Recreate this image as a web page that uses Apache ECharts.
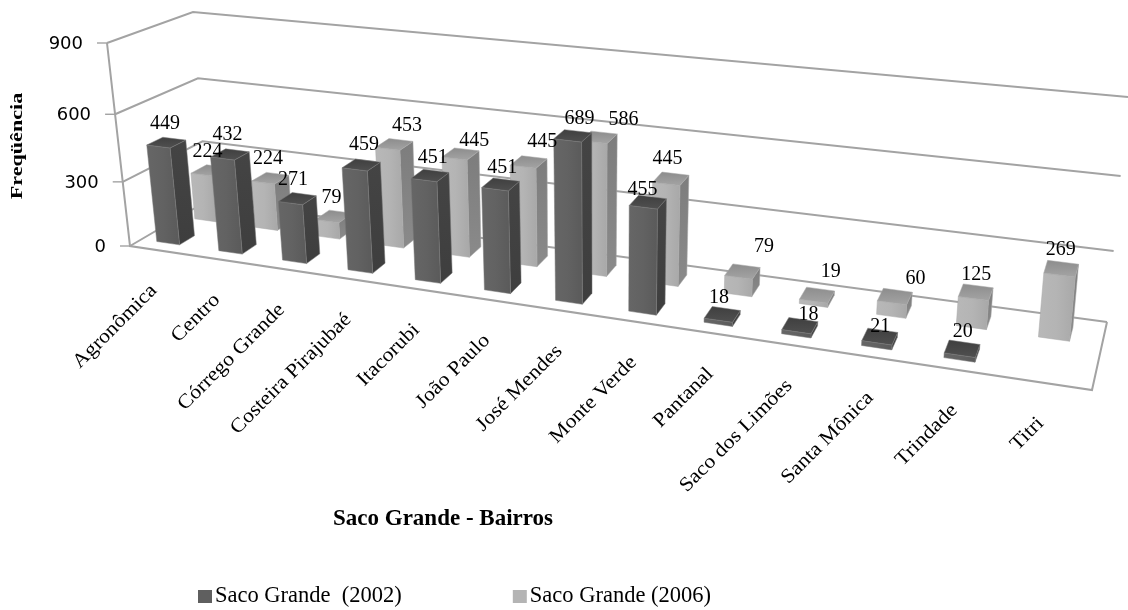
<!DOCTYPE html>
<html><head><meta charset="utf-8">
<style>html,body{margin:0;padding:0;background:#fff}#c{width:1128px;height:610px}</style>
<script src="https://cdn.jsdelivr.net/npm/echarts@6/dist/echarts.min.js"></script>
</head><body><div id="c"></div>
<script>
const categories = ['Agronômica','Centro','Córrego Grande','Costeira Pirajubaé','Itacorubi','João Paulo','José Mendes','Monte Verde','Pantanal','Saco dos Limões','Santa Mônica','Trindade','Titri'];
const saco2002 = [449,432,271,459,451,451,689,455,18,18,21,20,null];
const saco2006 = [224,224,79,453,445,445,586,445,79,19,60,125,269];
const yTicks = [0,300,600,900];
const name2002 = 'Saco Grande  (2002)';
const name2006 = 'Saco Grande (2006)';
const xTitle = 'Saco Grande - Bairros';
const yTitle = 'Freqüência';

// Label placement tweaks (pixels) relative to the bar top, as the reference places them.
const nudge2002 = [[-1,1],[-2,0],[-4,1],[3,0],[3,2],[2,3],[7,3],[-5,8],[-3,3],[9,9],[1,10],[1,3],[0,0]];
const nudge2006 = [[-2,1],[-2,1],[-2,1],[13,1],[14,7],[14,0],[25,2],[-3,0],[22,-5],[14,-3],[21,2],[1,3],[0,1]];

// Where the 3D box of the plot lands on the page.
const G = {left:108, top:43, width:962, height:202};
const box = {
  FL0:[130,246], FR0:[1092,390], BL0:[207,201], BR0:[1107,322],
  FL1:[107,43],  FR1:[1115,155], BL1:[193,12],  BR1:[1128,97]
};
const warpU = u => 0.83*u/(1-0.17*u);
const warpV = v => 0.924*v/(1-0.076*v);
function project(u,w,v){
  const U = warpU(u), V = warpV(v);
  const bil = (a,b,c,d,k)=> (a[k]*(1-U)+b[k]*U)*(1-w) + (c[k]*(1-U)+d[k]*U)*w;
  const p0=[bil(box.FL0,box.FR0,box.BL0,box.BR0,0),bil(box.FL0,box.FR0,box.BL0,box.BR0,1)];
  const p1=[bil(box.FL1,box.FR1,box.BL1,box.BR1,0),bil(box.FL1,box.FR1,box.BL1,box.BR1,1)];
  return [p0[0]+(p1[0]-p0[0])*V, p0[1]+(p1[1]-p0[1])*V];
}
function unit(api,i,val){
  const c = api.coord([i,val]);
  return {u:(c[0]-G.left)/G.width, v:(G.top+G.height-c[1])/G.height, band:api.size([1,0])[0]/G.width};
}
const poly=(pts,fill,stroke)=>({type:'polygon',shape:{points:pts},style:{fill:fill,stroke:stroke||fill,lineWidth:0.5}});
const grad=(x0,y0,x1,y1,stops)=>new echarts.graphic.LinearGradient(x0,y0,x1,y1,stops.map((c,i)=>({offset:i/(stops.length-1),color:c})));

function barRenderer(w0,w1,pal){
  return function(params,api){
    const i=api.value(0), val=api.value(1);
    if(val==null||isNaN(val)) return null;
    const t=unit(api,i,val);
    const u0=t.u-0.5*t.band+0.25*t.band, u1=u0+0.37*t.band;
    const P=project;
    const A=P(u0,w0,0),B=P(u1,w0,0),C=P(u1,w1,0);
    const D=P(u0,w0,t.v),E=P(u1,w0,t.v),F=P(u1,w1,t.v),H=P(u0,w1,t.v);
    return {type:'group',children:[
      poly([B,C,F,E],grad(0,0,0,1,pal.side),pal.edge),
      poly([A,B,E,D],grad(0,0,1,0,pal.front),pal.edge),
      poly([D,E,F,H],grad(0,0,0,1,pal.top),pal.edge)
    ]};
  };
}
const dark={front:['#666666','#626262','#5a5a5a'],side:['#444444','#3e3e3e'],top:['#3f3f3f','#505050'],edge:'#787878'};
const light={front:['#b8b8b8','#b4b4b4','#a8a8a8'],side:['#7d7d7d','#8a8a8a'],top:['#8c8c8c','#a4a4a4'],edge:'#a9a9a9'};
const row2002=[0.15,0.35], row2006=[0.65,0.85];

function labelRenderer(w,nudge){
  return function(params,api){
    const i=api.value(0), val=api.value(1);
    if(val==null||isNaN(val)) return null;
    const t=unit(api,i,val);
    const p=project(t.u-0.5*t.band+0.43*t.band,w,t.v);
    return {type:'text',x:p[0]+nudge[i][0],y:p[1]-20+nudge[i][1],style:{text:String(val),font:'20px "Liberation Serif"',fill:'#000',textAlign:'center',textVerticalAlign:'middle'}};
  };
}
function wallRenderer(params,api){
  const val=api.value(1), t=unit(api,0,val);
  const FL=project(0,0,t.v),BL=project(0,1,t.v),BR=project(1,1,t.v);
  const style={stroke:'#a3a3a3',lineWidth:2,fill:null};
  return {type:'group',children:[
    {type:'polyline',shape:{points:[FL,BL,BR]},style},
    {type:'line',shape:{x1:FL[0]-10,y1:FL[1],x2:FL[0],y2:FL[1]},style:{stroke:'#a3a3a3',lineWidth:1.4}},
    {type:'text',x:FL[0]-24,y:FL[1]+1,style:{text:String(val),font:'18px "DejaVu Sans"',fill:'#000',textAlign:'right',textVerticalAlign:'middle'}}
  ]};
}
function frameRenderer(params,api){
  const z=unit(api,0,0), o=unit(api,0,900);
  const a=project(0,0,o.v),b=project(0,0,z.v),c=project(1,0,z.v),d=project(1,1,z.v);
  return {type:'polyline',shape:{points:[a,b,c,d]},style:{stroke:'#a3a3a3',lineWidth:2,fill:null}};
}
function catRenderer(params,api){
  const i=api.value(0), t=unit(api,i,0);
  const p=project(t.u,0,0);
  return {type:'text',x:p[0]-7,y:p[1]+37,rotation:Math.PI/4,scaleX:1.1,style:{text:categories[i],font:'20px "Liberation Serif"',fill:'#000',textAlign:'right',textVerticalAlign:'middle'}};
}
const pairs = arr => arr.map((v,i)=>[i,v]);
const chart=echarts.init(document.getElementById('c'),null,{renderer:'canvas'});
chart.setOption({
  animation:false,
  backgroundColor:'#fff',
  tooltip:{show:false},
  title:{text:xTitle,left:328,top:503,textStyle:{fontFamily:'Liberation Serif',fontSize:23,fontWeight:'bold',color:'#000'}},
  legend:{data:[name2002,name2006],left:193,top:580,itemWidth:14,itemHeight:13,itemGap:111,icon:'rect',
    textStyle:{fontFamily:'Liberation Serif',fontSize:22.5,color:'#000',padding:[0,0,0,-2]}},
  graphic:[{type:'text',x:18,y:146,rotation:Math.PI/2,scaleX:1.3,style:{text:yTitle,font:'bold 17px "Liberation Serif"',fill:'#000',textAlign:'center',textVerticalAlign:'middle'}}],
  grid:{left:G.left,top:G.top,width:G.width,height:G.height},
  xAxis:{type:'category',data:categories,axisLine:{show:false},axisTick:{show:false},axisLabel:{show:false},splitLine:{show:false}},
  yAxis:{type:'value',min:0,max:900,interval:300,axisLine:{show:false},axisTick:{show:false},splitLine:{show:false},axisLabel:{show:false}},
  series:[
    {type:'custom',name:'walls',silent:true,z:1,data:yTicks.map(v=>[0,v]),encode:{x:0,y:1},renderItem:wallRenderer},
    {type:'custom',name:'frame',silent:true,z:1,data:[[0,0]],encode:{x:0,y:1},renderItem:frameRenderer},
    {type:'custom',name:name2006,z:2,itemStyle:{color:'#b4b4b4'},data:pairs(saco2006),encode:{x:0,y:1},renderItem:barRenderer(row2006[0],row2006[1],light)},
    {type:'custom',name:name2002,z:3,itemStyle:{color:'#5f5f5f'},data:pairs(saco2002),encode:{x:0,y:1},renderItem:barRenderer(row2002[0],row2002[1],dark)},
    {type:'custom',name:'labels2006',silent:true,z:5,data:pairs(saco2006),encode:{x:0,y:1},renderItem:labelRenderer(0.75,nudge2006)},
    {type:'custom',name:'labels2002',silent:true,z:5,data:pairs(saco2002),encode:{x:0,y:1},renderItem:labelRenderer(0.25,nudge2002)},
    {type:'custom',name:'categories',silent:true,z:5,data:categories.map((c,i)=>[i,0]),encode:{x:0,y:1},renderItem:catRenderer}
  ]
});
</script></body></html>
